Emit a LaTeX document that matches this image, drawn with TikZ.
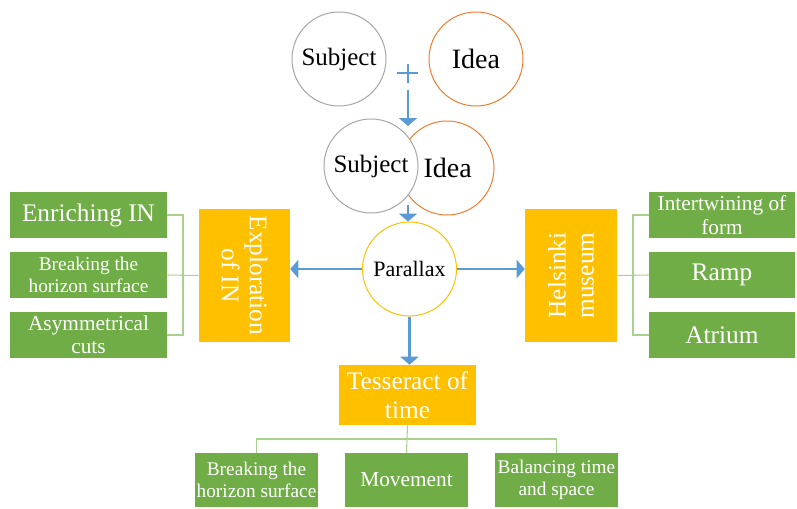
\documentclass[tikz,border=0pt]{standalone}
\usepackage{fontspec}
\setmainfont{Liberation Serif}
\usetikzlibrary{arrows.meta}
\definecolor{leafgreen}{HTML}{70AD47}
\definecolor{topicgold}{HTML}{FFC000}
\definecolor{flowblue}{HTML}{5B9BD5}
\definecolor{treegreen}{HTML}{A9D18E}
\definecolor{subjgray}{HTML}{A6A6A6}
\definecolor{ideaorange}{HTML}{ED7D31}

\begin{document}
\begin{tikzpicture}[x=0.75pt,y=-0.75pt,>={Triangle[width=13.5pt,length=6pt]},node distance=45pt,
                    circ node/.style={circle,draw,line width=0.75pt,fill=white,minimum size=70.5pt,inner sep=0pt},
                    leaf node/.style={fill=leafgreen,text=white,align=center,inner sep=0pt,minimum height=34.5pt},
                    topic node/.style={fill=topicgold,text=white,align=center,inner sep=0pt,font=\fontsize{19}{21}\selectfont},
                    flow/.style={->,draw=flowblue,line width=1.6pt},
                    tree/.style={draw=treegreen,line width=0.8pt}]
                    \useasboundingbox (0,0) rectangle (797,508);

                    \node[circ node,draw=subjgray,font=\fontsize{18.75}{20}\selectfont] (subj) at (339,59) {Subject};
                    \node[circ node,draw=ideaorange,font=\fontsize{21}{23}\selectfont] (idea) at (476,59) {Idea};
                    \node[circ node,draw=ideaorange,font=\fontsize{21}{23}\selectfont,text width=35pt,align=right] (idea2) at (447,168) {Idea};
                    \node[circ node,draw=subjgray,font=\fontsize{18.75}{20}\selectfont] (subj2) at (371,166) {Subject};
                    \node[circ node,draw=topicgold,font=\fontsize{16.5}{18}\selectfont] (par) at (409.5,269) {Parallax};

                    \node[topic node,rotate=-90,minimum width=99.75pt,minimum height=68.25pt] (expl) at (244.5,275.5) {Exploration\\of IN};
                    \node[topic node,rotate=90,minimum width=99.75pt,minimum height=69pt] (hel) at (571,275.5) {Helsinki\\museum};
                    \node[topic node,minimum width=102.75pt,minimum height=45pt,font=\fontsize{19}{22}\selectfont] (tess) at (407.5,395) {Tesseract of\\time};

                    \node[leaf node,minimum width=117.75pt,font=\fontsize{19}{21}\selectfont] (enr) at (88.5,215) {Enriching IN};
                    \node[leaf node,minimum width=117.75pt,font=\fontsize{14.5}{16}\selectfont] (brk) [below of = enr] {Breaking the\\horizon surface};
                    \node[leaf node,minimum width=117.75pt,font=\fontsize{16}{17.5}\selectfont] (asy) [below of = brk] {Asymmetrical\\cuts};

                    \node[leaf node,minimum width=109.5pt,font=\fontsize{16}{17.5}\selectfont] (int) at (722,215) {Intertwining of\\form};
                    \node[leaf node,minimum width=109.5pt,font=\fontsize{19}{21}\selectfont] (ramp) [below of = int] {Ramp};
                    \node[leaf node,minimum width=109.5pt,font=\fontsize{19}{21}\selectfont] (atr) [below of = ramp] {Atrium};

                    \node[leaf node,minimum width=92pt,minimum height=40.5pt,font=\fontsize{14.5}{16}\selectfont] (brk2) at (256.5,480) {Breaking the\\horizon surface};
                    \node[leaf node,minimum width=92pt,minimum height=40.5pt,font=\fontsize{16}{18}\selectfont] (mov) [right of = brk2, node distance=112.5pt] {Movement};
                    \node[leaf node,minimum width=92pt,minimum height=40.5pt,font=\fontsize{14.5}{16}\selectfont] (bal) [right of = mov, node distance=112.5pt] {Balancing time\\and space};

                    \coordinate (plustop) at (408,90);
                    \coordinate (plusend) at (408,126);
                    \coordinate (mergeend) at (408,205);
                    \coordinate (lbar) at (183,275);
                    \coordinate (rbar) at (633,275);
                    \coordinate (tbar) at (407,439);

                    % plus sign between the two circles
                    \draw[flowblue,line width=1.6pt] (397,73) -- (418,73) (408,64) -- (408,83);

                    \draw[flow] (plustop) -- (plusend);
                    \draw[flow] (mergeend) -- (mergeend |- par.north);
                    \draw[flow] (par.west) -- (par.west -| expl.north);
                    \draw[flow] (par.east) -- (par.east -| hel.north);
                    \draw[flow] (par.south) -- (par.south |- tess.north);

                    \draw[tree] (enr.east) -| (lbar |- asy.east) -- (asy.east);
                    \draw[tree] (brk.east) -- (expl.south);
                    \draw[tree] (int.west) -| (rbar |- atr.west) -- (atr.west);
                    \draw[tree] (hel.south) -- (ramp.west);
                    \draw[tree] (brk2.north) |- (tbar) -| (bal.north);
                    \draw[tree] (tess.south) -- (mov.north);
                \end{tikzpicture}
\end{document}
